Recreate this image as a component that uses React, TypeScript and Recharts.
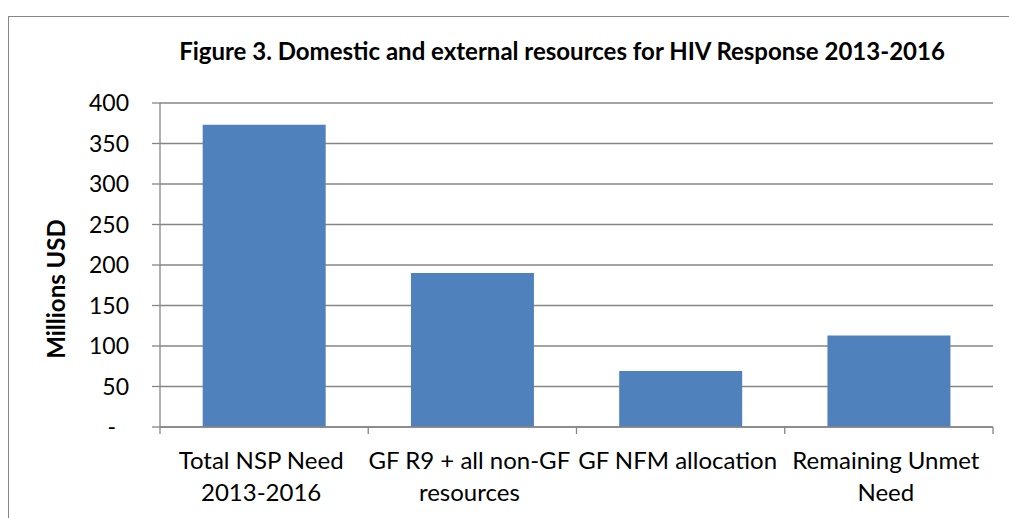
import React from 'react';
import { BarChart, Bar, XAxis, YAxis, CartesianGrid } from 'recharts';

const categories = [
  'Total NSP Need 2013-2016',
  'GF R9 + all non-GF resources',
  'GF NFM allocation',
  'Remaining Unmet Need',
];
const categoryLabelLines = [
  ['Total NSP Need', '2013-2016'],
  ['GF R9 + all non-GF', 'resources'],
  ['GF NFM allocation'],
  ['Remaining Unmet', 'Need'],
];
const values = [373, 190, 69, 113];
const yTicks = [0, 50, 100, 150, 200, 250, 300, 350, 400];
const title = 'Figure 3. Domestic and external resources for HIV Response 2013-2016';
const yAxisTitle = 'Millions USD';

const data = categories.map((c, i) => ({ name: c, value: values[i] }));

const W = 1009;
const H = 518;
const X_AXIS_H = 30;
const M = { top: 103, right: 16, bottom: 91 - X_AXIS_H, left: 0 };
const Y_AXIS_W = 160;
const FONT = 'Lato, "Open Sans", sans-serif';
const GRAY = '#868686';

const plotW = W - M.left - M.right - Y_AXIS_W;
const band = plotW / categories.length;

const YTick = (props: any) => {
  const { x, y, payload } = props;
  const v = payload.value;
  const label = v === 0 ? '-' : String(v);
  return (
    <text
      x={v === 0 ? x - 13 : x}
      y={y}
      dy={8}
      textAnchor="end"
      fontFamily={FONT}
      fontSize={23}
      fill="#000"
    >
      {label}
    </text>
  );
};

const XTick = (props: any) => {
  const { x, y, payload, index } = props;
  const idx = typeof index === 'number' ? index : categories.indexOf(payload.value);
  const lines = categoryLabelLines[idx] || [payload.value];
  const left = x - band / 2;
  const right = x + band / 2;
  return (
    <g>
      <line x1={left} y1={y} x2={left} y2={y + 7} stroke={GRAY} strokeWidth={1.3} />
      {idx === categories.length - 1 && (
        <line x1={right} y1={y} x2={right} y2={y + 7} stroke={GRAY} strokeWidth={1.3} />
      )}
      {lines.map((ln: string, i: number) => (
        <text
          key={i}
          x={x - 3}
          y={y + 41.5 + i * 32.5}
          textAnchor="middle"
          fontFamily={FONT}
          fontSize={24}
          fill="#000"
        >
          {ln}
        </text>
      ))}
    </g>
  );
};

export default function App() {
  return (
    <div
      style={{
        position: 'fixed',
        left: 0,
        top: 0,
        width: W,
        height: H,
        overflow: 'hidden',
        background: '#fff',
      }}
    >
      <div
        style={{
          position: 'absolute',
          left: 8,
          top: 16,
          width: 1100,
          height: 600,
          border: `1.3px solid ${GRAY}`,
          boxSizing: 'border-box',
        }}
      />
      <div
        style={{
          position: 'absolute',
          left: 0,
          width: 1124,
          top: 37,
          textAlign: 'center',
          fontFamily: FONT,
          fontWeight: 700,
          fontSize: 24,
          lineHeight: '28px',
          color: '#000',
          whiteSpace: 'nowrap',
        }}
      >
        {title}
      </div>
      <div
        style={{
          position: 'absolute',
          left: 55,
          top: 289,
          transform: 'translate(-50%, -50%) rotate(-90deg)',
          fontFamily: FONT,
          fontWeight: 700,
          fontSize: 24,
          whiteSpace: 'nowrap',
          color: '#000',
        }}
      >
        {yAxisTitle}
      </div>
      <div style={{ position: 'absolute', left: 0, top: 0 }}>
        <BarChart width={W} height={H} data={data} margin={M} barCategoryGap="20.5%">
          <CartesianGrid vertical={false} stroke={GRAY} strokeWidth={1.3} />
          <XAxis
            dataKey="name"
            height={X_AXIS_H}
            interval={0}
            tickSize={0}
            tickMargin={0}
            tickLine={false}
            axisLine={{ stroke: GRAY, strokeWidth: 1.3 }}
            tick={<XTick />}
          />
          <YAxis
            width={Y_AXIS_W}
            domain={[0, 400]}
            ticks={yTicks}
            interval={0}
            tickSize={8}
            tickMargin={23}
            tickLine={{ stroke: GRAY, strokeWidth: 1.3 }}
            axisLine={{ stroke: GRAY, strokeWidth: 1.3 }}
            tick={<YTick />}
          />
          <Bar dataKey="value" fill="#4F81BD" isAnimationActive={false} />
        </BarChart>
      </div>
    </div>
  );
}
